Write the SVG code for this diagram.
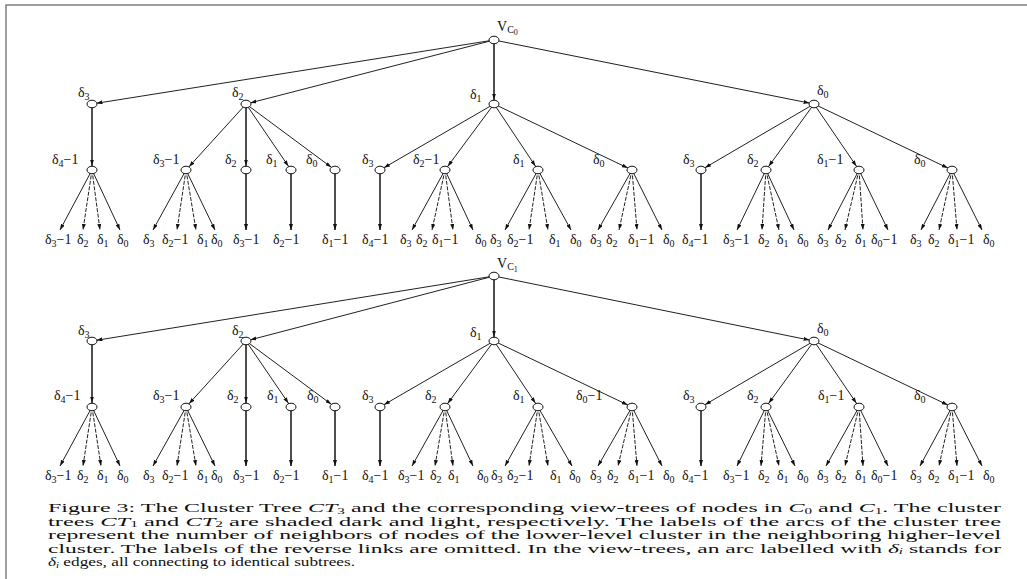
<svg xmlns="http://www.w3.org/2000/svg" width="1027" height="579" viewBox="0 0 1027 579">
<style>
text{font-family:"Liberation Serif","DejaVu Serif",serif;font-size:14px;fill:#111}
.s{font-size:10px}
.cs{font-size:8.5px}
.cap{font-size:13.5px}
.it{font-style:italic}
.e{stroke:#222;stroke-width:1;fill:none;marker-end:url(#ah)}
.n{stroke:#222;stroke-width:1;fill:none;marker-end:url(#ahn)}
.v{stroke-width:1.6}
.d{stroke-dasharray:4 1.5}
ellipse{fill:#fff;stroke:#111;stroke-width:1}
.frame{stroke:#808080;stroke-width:1.5;fill:none}
</style>
<defs>
<marker id="ah" viewBox="0 0 6 4" refX="6" refY="2" markerWidth="6" markerHeight="4" markerUnits="userSpaceOnUse" orient="auto"><path d="M0,0 L6,2 L0,4 z" fill="#111"/></marker>
<marker id="ahn" viewBox="0 0 10.5 4" refX="10.5" refY="2" markerWidth="10.5" markerHeight="4" markerUnits="userSpaceOnUse" orient="auto"><path d="M0,0 L6,2 L0,4 z" fill="#111"/></marker>
</defs>
<rect width="1027" height="579" fill="#fff"/>
<path class="frame" d="M6,579 V5 H1027"/>

<g id="connectors">
<!-- tree 1 -->
<path class="n" d="M494,40 L92,104"/>
<path class="n" d="M494,40 L246,104"/>
<path class="n v" d="M494,40 L494,104"/>
<path class="n" d="M494,40 L814,104"/>
<path class="n v" d="M92,104 L92,170"/>
<path class="n" d="M246,104 L186,170"/><path class="n v" d="M246,104 L246,170"/><path class="n" d="M246,104 L291,170"/><path class="n" d="M246,104 L335,170"/>
<path class="n" d="M494,104 L380,170"/><path class="n" d="M494,104 L445,170"/><path class="n" d="M494,104 L538,170"/><path class="n" d="M494,104 L632,170"/>
<path class="n" d="M814,104 L701,170"/><path class="n" d="M814,104 L766,170"/><path class="n" d="M814,104 L859,170"/><path class="n" d="M814,104 L952,170"/>
<path class="e" d="M92,170 L60,230"/><path class="e d" d="M92,170 L83,230"/><path class="e d" d="M92,170 L100,230"/><path class="e" d="M92,170 L120,230"/>
<path class="e" d="M186,170 L153,230"/><path class="e d" d="M186,170 L177,230"/><path class="e d" d="M186,170 L196,230"/><path class="e" d="M186,170 L215,230"/>
<path class="e v" d="M246,170 L246,230"/><path class="e v" d="M291,170 L291,230"/><path class="e v" d="M335,170 L335,230"/><path class="e v" d="M380,170 L380,230"/>
<path class="e" d="M445,170 L412,230"/><path class="e d" d="M445,170 L432,230"/><path class="e d" d="M445,170 L453,230"/><path class="e" d="M445,170 L473,230"/>
<path class="e" d="M538,170 L505,230"/><path class="e d" d="M538,170 L529,230"/><path class="e d" d="M538,170 L548,230"/><path class="e" d="M538,170 L571,230"/>
<path class="e" d="M632,170 L598,230"/><path class="e d" d="M632,170 L619,230"/><path class="e d" d="M632,170 L637,230"/><path class="e" d="M632,170 L662,230"/>
<path class="e v" d="M701,170 L701,230"/>
<path class="e" d="M766,170 L737,230"/><path class="e d" d="M766,170 L762,230"/><path class="e d" d="M766,170 L779,230"/><path class="e" d="M766,170 L794,230"/>
<path class="e" d="M859,170 L828,230"/><path class="e d" d="M859,170 L845,230"/><path class="e d" d="M859,170 L863,230"/><path class="e" d="M859,170 L888,230"/>
<path class="e" d="M952,170 L921,230"/><path class="e d" d="M952,170 L939,230"/><path class="e d" d="M952,170 L957,230"/><path class="e" d="M952,170 L982,230"/>
<!-- tree 2 -->
<path class="n" d="M494,276 L92,341"/>
<path class="n" d="M494,276 L246,341"/>
<path class="n v" d="M494,276 L494,341"/>
<path class="n" d="M494,276 L814,341"/>
<path class="n v" d="M92,341 L92,407"/>
<path class="n" d="M246,341 L186,407"/><path class="n v" d="M246,341 L246,407"/><path class="n" d="M246,341 L291,407"/><path class="n" d="M246,341 L335,407"/>
<path class="n" d="M494,341 L380,407"/><path class="n" d="M494,341 L445,407"/><path class="n" d="M494,341 L538,407"/><path class="n" d="M494,341 L632,407"/>
<path class="n" d="M814,341 L701,407"/><path class="n" d="M814,341 L766,407"/><path class="n" d="M814,341 L859,407"/><path class="n" d="M814,341 L952,407"/>
<path class="e" d="M92,407 L60,466"/><path class="e d" d="M92,407 L83,466"/><path class="e d" d="M92,407 L101,466"/><path class="e" d="M92,407 L120,466"/>
<path class="e" d="M186,407 L153,466"/><path class="e d" d="M186,407 L177,466"/><path class="e d" d="M186,407 L196,466"/><path class="e" d="M186,407 L215,466"/>
<path class="e v" d="M246,407 L246,466"/><path class="e v" d="M291,407 L291,466"/><path class="e v" d="M335,407 L335,466"/><path class="e v" d="M380,407 L380,466"/>
<path class="e" d="M445,407 L412,466"/><path class="e d" d="M445,407 L435,466"/><path class="e d" d="M445,407 L453,466"/><path class="e" d="M445,407 L473,466"/>
<path class="e" d="M538,407 L505,466"/><path class="e d" d="M538,407 L529,466"/><path class="e d" d="M538,407 L548,466"/><path class="e" d="M538,407 L572,466"/>
<path class="e" d="M632,407 L598,466"/><path class="e d" d="M632,407 L618,466"/><path class="e d" d="M632,407 L637,466"/><path class="e" d="M632,407 L662,466"/>
<path class="e v" d="M701,407 L701,466"/>
<path class="e" d="M766,407 L737,466"/><path class="e d" d="M766,407 L761,466"/><path class="e d" d="M766,407 L779,466"/><path class="e" d="M766,407 L795,466"/>
<path class="e" d="M859,407 L826,466"/><path class="e d" d="M859,407 L845,466"/><path class="e d" d="M859,407 L863,466"/><path class="e" d="M859,407 L888,466"/>
<path class="e" d="M952,407 L920,466"/><path class="e d" d="M952,407 L939,466"/><path class="e d" d="M952,407 L957,466"/><path class="e" d="M952,407 L982,466"/>
</g>

<!-- ===== Tree 1 nodes ===== -->
<g id="t1-root"><ellipse cx="494" cy="40" rx="5" ry="3.8"/><text x="497" y="31" font-size="15">V<tspan class="s" dy="2" font-size="11">C</tspan><tspan dy="2" font-size="8">0</tspan></text></g>
<g id="t1-a"><ellipse cx="92" cy="104" rx="5" ry="3.8"/><text x="78" y="97">δ<tspan class="s" dy="3">3</tspan></text></g>
<g id="t1-b"><ellipse cx="246" cy="104" rx="5" ry="3.8"/><text x="232" y="97">δ<tspan class="s" dy="3">2</tspan></text></g>
<g id="t1-c"><ellipse cx="494" cy="104" rx="5" ry="3.8"/><text x="470" y="99">δ<tspan class="s" dy="3">1</tspan></text></g>
<g id="t1-d"><ellipse cx="814" cy="104" rx="5" ry="3.8"/><text x="817" y="95">δ<tspan class="s" dy="3">0</tspan></text></g>
<g id="t1-a1"><ellipse cx="92" cy="170" rx="5" ry="3.8"/><text x="52" y="164">δ<tspan class="s" dy="3">4</tspan><tspan dy="-3">−1</tspan></text></g>
<g id="t1-b1"><ellipse cx="186" cy="170" rx="5" ry="3.8"/><text x="153" y="164">δ<tspan class="s" dy="3">3</tspan><tspan dy="-3">−1</tspan></text></g>
<g id="t1-b2"><ellipse cx="246" cy="170" rx="5" ry="3.8"/><text x="225" y="164">δ<tspan class="s" dy="3">2</tspan></text></g>
<g id="t1-b3"><ellipse cx="291" cy="170" rx="5" ry="3.8"/><text x="266" y="164">δ<tspan class="s" dy="3">1</tspan></text></g>
<g id="t1-b4"><ellipse cx="335" cy="170" rx="5" ry="3.8"/><text x="306" y="164">δ<tspan class="s" dy="3">0</tspan></text></g>
<g id="t1-c1"><ellipse cx="380" cy="170" rx="5" ry="3.8"/><text x="362" y="164">δ<tspan class="s" dy="3">3</tspan></text></g>
<g id="t1-c2"><ellipse cx="445" cy="170" rx="5" ry="3.8"/><text x="413" y="164">δ<tspan class="s" dy="3">2</tspan><tspan dy="-3">−1</tspan></text></g>
<g id="t1-c3"><ellipse cx="538" cy="170" rx="5" ry="3.8"/><text x="513" y="164">δ<tspan class="s" dy="3">1</tspan></text></g>
<g id="t1-c4"><ellipse cx="632" cy="170" rx="5" ry="3.8"/><text x="593" y="164">δ<tspan class="s" dy="3">0</tspan></text></g>
<g id="t1-d1"><ellipse cx="701" cy="170" rx="5" ry="3.8"/><text x="683" y="164">δ<tspan class="s" dy="3">3</tspan></text></g>
<g id="t1-d2"><ellipse cx="766" cy="170" rx="5" ry="3.8"/><text x="747" y="164">δ<tspan class="s" dy="3">2</tspan></text></g>
<g id="t1-d3"><ellipse cx="859" cy="170" rx="5" ry="3.8"/><text x="817" y="164">δ<tspan class="s" dy="3">1</tspan><tspan dy="-3">−1</tspan></text></g>
<g id="t1-d4"><ellipse cx="952" cy="170" rx="5" ry="3.8"/><text x="914" y="164">δ<tspan class="s" dy="3">0</tspan></text></g>

<g id="t1-leaves">
<text x="45" y="244">δ<tspan class="s" dy="3">3</tspan><tspan dy="-3">−1</tspan></text>
<text x="77" y="244">δ<tspan class="s" dy="3">2</tspan></text>
<text x="97" y="244">δ<tspan class="s" dy="3">1</tspan></text>
<text x="117" y="244">δ<tspan class="s" dy="3">0</tspan></text>
<text x="143" y="244">δ<tspan class="s" dy="3">3</tspan></text>
<text x="162" y="244">δ<tspan class="s" dy="3">2</tspan><tspan dy="-3">−1</tspan></text>
<text x="197" y="244">δ<tspan class="s" dy="3">1</tspan></text>
<text x="211" y="244">δ<tspan class="s" dy="3">0</tspan></text>
<text x="233" y="244">δ<tspan class="s" dy="3">3</tspan><tspan dy="-3">−1</tspan></text>
<text x="273" y="244">δ<tspan class="s" dy="3">2</tspan><tspan dy="-3">−1</tspan></text>
<text x="322" y="244">δ<tspan class="s" dy="3">1</tspan><tspan dy="-3">−1</tspan></text>
<text x="362" y="244">δ<tspan class="s" dy="3">4</tspan><tspan dy="-3">−1</tspan></text>
<text x="400" y="244">δ<tspan class="s" dy="3">3</tspan></text>
<text x="416" y="244">δ<tspan class="s" dy="3">2</tspan></text>
<text x="432" y="244">δ<tspan class="s" dy="3">1</tspan><tspan dy="-3">−1</tspan></text>
<text x="475" y="244">δ<tspan class="s" dy="3">0</tspan></text>
<text x="490" y="244">δ<tspan class="s" dy="3">3</tspan></text>
<text x="507" y="244">δ<tspan class="s" dy="3">2</tspan><tspan dy="-3">−1</tspan></text>
<text x="549" y="244">δ<tspan class="s" dy="3">1</tspan></text>
<text x="570" y="244">δ<tspan class="s" dy="3">0</tspan></text>
<text x="590" y="244">δ<tspan class="s" dy="3">3</tspan></text>
<text x="606" y="244">δ<tspan class="s" dy="3">2</tspan></text>
<text x="628" y="244">δ<tspan class="s" dy="3">1</tspan><tspan dy="-3">−1</tspan></text>
<text x="663" y="244">δ<tspan class="s" dy="3">0</tspan></text>
<text x="682" y="244">δ<tspan class="s" dy="3">4</tspan><tspan dy="-3">−1</tspan></text>
<text x="723" y="244">δ<tspan class="s" dy="3">3</tspan><tspan dy="-3">−1</tspan></text>
<text x="758" y="244">δ<tspan class="s" dy="3">2</tspan></text>
<text x="777" y="244">δ<tspan class="s" dy="3">1</tspan></text>
<text x="797" y="244">δ<tspan class="s" dy="3">0</tspan></text>
<text x="817" y="244">δ<tspan class="s" dy="3">3</tspan></text>
<text x="835" y="244">δ<tspan class="s" dy="3">2</tspan></text>
<text x="855" y="244">δ<tspan class="s" dy="3">1</tspan></text>
<text x="871" y="244">δ<tspan class="s" dy="3">0</tspan><tspan dy="-3">−1</tspan></text>
<text x="910" y="244">δ<tspan class="s" dy="3">3</tspan></text>
<text x="928" y="244">δ<tspan class="s" dy="3">2</tspan></text>
<text x="948" y="244">δ<tspan class="s" dy="3">1</tspan><tspan dy="-3">−1</tspan></text>
<text x="983" y="244">δ<tspan class="s" dy="3">0</tspan></text>
</g>

<!-- ===== Tree 2 nodes ===== -->
<g id="t2-root"><ellipse cx="494" cy="276" rx="5" ry="3.8"/><text x="497" y="268" font-size="15">V<tspan class="s" dy="2" font-size="11">C</tspan><tspan dy="2" font-size="8">1</tspan></text></g>
<g id="t2-a"><ellipse cx="92" cy="341" rx="5" ry="3.8"/><text x="78" y="335">δ<tspan class="s" dy="3">3</tspan></text></g>
<g id="t2-b"><ellipse cx="246" cy="341" rx="5" ry="3.8"/><text x="232" y="335">δ<tspan class="s" dy="3">2</tspan></text></g>
<g id="t2-c"><ellipse cx="494" cy="341" rx="5" ry="3.8"/><text x="470" y="337">δ<tspan class="s" dy="3">1</tspan></text></g>
<g id="t2-d"><ellipse cx="814" cy="341" rx="5" ry="3.8"/><text x="817" y="333">δ<tspan class="s" dy="3">0</tspan></text></g>
<g id="t2-a1"><ellipse cx="92" cy="407" rx="5" ry="3.8"/><text x="54" y="400">δ<tspan class="s" dy="3">4</tspan><tspan dy="-3">−1</tspan></text></g>
<g id="t2-b1"><ellipse cx="186" cy="407" rx="5" ry="3.8"/><text x="153" y="400">δ<tspan class="s" dy="3">3</tspan><tspan dy="-3">−1</tspan></text></g>
<g id="t2-b2"><ellipse cx="246" cy="407" rx="5" ry="3.8"/><text x="227" y="400">δ<tspan class="s" dy="3">2</tspan></text></g>
<g id="t2-b3"><ellipse cx="291" cy="407" rx="5" ry="3.8"/><text x="267" y="400">δ<tspan class="s" dy="3">1</tspan></text></g>
<g id="t2-b4"><ellipse cx="335" cy="407" rx="5" ry="3.8"/><text x="307" y="400">δ<tspan class="s" dy="3">0</tspan></text></g>
<g id="t2-c1"><ellipse cx="380" cy="407" rx="5" ry="3.8"/><text x="362" y="400">δ<tspan class="s" dy="3">3</tspan></text></g>
<g id="t2-c2"><ellipse cx="445" cy="407" rx="5" ry="3.8"/><text x="425" y="400">δ<tspan class="s" dy="3">2</tspan></text></g>
<g id="t2-c3"><ellipse cx="538" cy="407" rx="5" ry="3.8"/><text x="513" y="400">δ<tspan class="s" dy="3">1</tspan></text></g>
<g id="t2-c4"><ellipse cx="632" cy="407" rx="5" ry="3.8"/><text x="576" y="400">δ<tspan class="s" dy="3">0</tspan><tspan dy="-3">−1</tspan></text></g>
<g id="t2-d1"><ellipse cx="701" cy="407" rx="5" ry="3.8"/><text x="683" y="400">δ<tspan class="s" dy="3">3</tspan></text></g>
<g id="t2-d2"><ellipse cx="766" cy="407" rx="5" ry="3.8"/><text x="747" y="400">δ<tspan class="s" dy="3">2</tspan></text></g>
<g id="t2-d3"><ellipse cx="859" cy="407" rx="5" ry="3.8"/><text x="818" y="400">δ<tspan class="s" dy="3">1</tspan><tspan dy="-3">−1</tspan></text></g>
<g id="t2-d4"><ellipse cx="952" cy="407" rx="5" ry="3.8"/><text x="914" y="400">δ<tspan class="s" dy="3">0</tspan></text></g>

<g id="t2-leaves">
<text x="45" y="480">δ<tspan class="s" dy="3">3</tspan><tspan dy="-3">−1</tspan></text>
<text x="77" y="480">δ<tspan class="s" dy="3">2</tspan></text>
<text x="97" y="480">δ<tspan class="s" dy="3">1</tspan></text>
<text x="117" y="480">δ<tspan class="s" dy="3">0</tspan></text>
<text x="143" y="480">δ<tspan class="s" dy="3">3</tspan></text>
<text x="162" y="480">δ<tspan class="s" dy="3">2</tspan><tspan dy="-3">−1</tspan></text>
<text x="197" y="480">δ<tspan class="s" dy="3">1</tspan></text>
<text x="211" y="480">δ<tspan class="s" dy="3">0</tspan></text>
<text x="233" y="480">δ<tspan class="s" dy="3">3</tspan><tspan dy="-3">−1</tspan></text>
<text x="273" y="480">δ<tspan class="s" dy="3">2</tspan><tspan dy="-3">−1</tspan></text>
<text x="322" y="480">δ<tspan class="s" dy="3">1</tspan><tspan dy="-3">−1</tspan></text>
<text x="362" y="480">δ<tspan class="s" dy="3">4</tspan><tspan dy="-3">−1</tspan></text>
<text x="398" y="480">δ<tspan class="s" dy="3">3</tspan><tspan dy="-3">−1</tspan></text>
<text x="430" y="480">δ<tspan class="s" dy="3">2</tspan></text>
<text x="448" y="480">δ<tspan class="s" dy="3">1</tspan></text>
<text x="477" y="480">δ<tspan class="s" dy="3">0</tspan></text>
<text x="491" y="480">δ<tspan class="s" dy="3">3</tspan></text>
<text x="507" y="480">δ<tspan class="s" dy="3">2</tspan><tspan dy="-3">−1</tspan></text>
<text x="550" y="480">δ<tspan class="s" dy="3">1</tspan></text>
<text x="569" y="480">δ<tspan class="s" dy="3">0</tspan></text>
<text x="590" y="480">δ<tspan class="s" dy="3">3</tspan></text>
<text x="607" y="480">δ<tspan class="s" dy="3">2</tspan></text>
<text x="628" y="480">δ<tspan class="s" dy="3">1</tspan><tspan dy="-3">−1</tspan></text>
<text x="663" y="480">δ<tspan class="s" dy="3">0</tspan></text>
<text x="682" y="480">δ<tspan class="s" dy="3">4</tspan><tspan dy="-3">−1</tspan></text>
<text x="723" y="480">δ<tspan class="s" dy="3">3</tspan><tspan dy="-3">−1</tspan></text>
<text x="758" y="480">δ<tspan class="s" dy="3">2</tspan></text>
<text x="777" y="480">δ<tspan class="s" dy="3">1</tspan></text>
<text x="797" y="480">δ<tspan class="s" dy="3">0</tspan></text>
<text x="817" y="480">δ<tspan class="s" dy="3">3</tspan></text>
<text x="835" y="480">δ<tspan class="s" dy="3">2</tspan></text>
<text x="855" y="480">δ<tspan class="s" dy="3">1</tspan></text>
<text x="871" y="480">δ<tspan class="s" dy="3">0</tspan><tspan dy="-3">−1</tspan></text>
<text x="910" y="480">δ<tspan class="s" dy="3">3</tspan></text>
<text x="928" y="480">δ<tspan class="s" dy="3">2</tspan></text>
<text x="948" y="480">δ<tspan class="s" dy="3">1</tspan><tspan dy="-3">−1</tspan></text>
<text x="983" y="480">δ<tspan class="s" dy="3">0</tspan></text>
</g>

<g id="caption">
<text class="cap" x="48" y="512" textLength="953" lengthAdjust="spacingAndGlyphs">Figure 3: The Cluster Tree <tspan class="it">CT</tspan><tspan class="cs" dy="1.5">3</tspan><tspan dy="-1.5"> and the corresponding view-trees of nodes in </tspan><tspan class="it">C</tspan><tspan class="cs" dy="1.5">0</tspan><tspan dy="-1.5"> and </tspan><tspan class="it">C</tspan><tspan class="cs" dy="1.5">1</tspan><tspan dy="-1.5">. The cluster</tspan></text>
<text class="cap" x="48" y="525.5" textLength="953" lengthAdjust="spacingAndGlyphs">trees <tspan class="it">CT</tspan><tspan class="cs" dy="1.5">1</tspan><tspan dy="-1.5"> and </tspan><tspan class="it">CT</tspan><tspan class="cs" dy="1.5">2</tspan><tspan dy="-1.5"> are shaded dark and light, respectively. The labels of the arcs of the cluster tree</tspan></text>
<text class="cap" x="48" y="539" textLength="953" lengthAdjust="spacingAndGlyphs">represent the number of neighbors of nodes of the lower-level cluster in the neighboring higher-level</text>
<text class="cap" x="48" y="552.5" textLength="953" lengthAdjust="spacingAndGlyphs">cluster. The labels of the reverse links are omitted. In the view-trees, an arc labelled with <tspan class="it">δ</tspan><tspan class="cs it" dy="1.5">i</tspan><tspan dy="-1.5"> stands for</tspan></text>
<text class="cap" x="48" y="566" textLength="307" lengthAdjust="spacingAndGlyphs"><tspan class="it">δ</tspan><tspan class="cs it" dy="1.5">i</tspan><tspan dy="-1.5"> edges, all connecting to identical subtrees.</tspan></text>
</g>
</svg>
